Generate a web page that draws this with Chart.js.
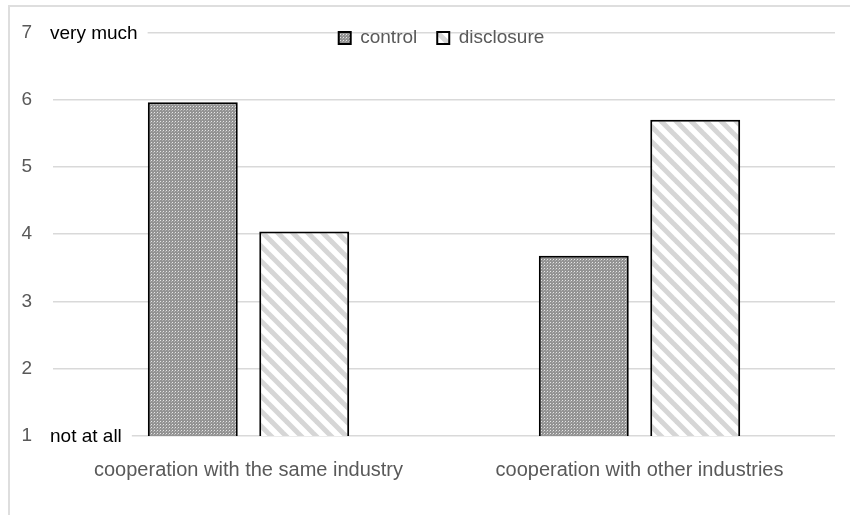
<!DOCTYPE html>
<html>
<head>
<meta charset="utf-8">
<script src="https://cdn.jsdelivr.net/npm/chart.js@4/dist/chart.umd.min.js"></script>
<style>
html, body { margin: 0; padding: 0; background: #fff; }
#wrap { position: relative; width: 850px; height: 515px; overflow: hidden; }
#frame { position: absolute; left: 8px; top: 5px; width: 900px; height: 600px; border: 2px solid #dedede; }
#c { position: absolute; left: 0; top: 0; }
</style>
</head>
<body>
<div id="wrap"><div id="frame"></div><canvas id="c" width="850" height="515"></canvas></div>
<script>
(function () {

// data -------------------------------------------------------------------------------------------------
var categories = ['cooperation with the same industry', 'cooperation with other industries'];
var seriesNames = ['control', 'disclosure'];
var controlValues = [5.96, 3.68];
var disclosureValues = [4.04, 5.70];
var yTicks = [1, 2, 3, 4, 5, 6, 7];
var endLabels = { 1: 'not at all', 7: 'very much' };

// patterns ---------------------------------------------------------------------------------------------
function dotPattern() {
    var c = document.createElement('canvas');
    c.width = 3; c.height = 3;
    var x = c.getContext('2d');
    x.fillStyle = '#939393';
    x.fillRect(0, 0, 3, 3);
    x.fillStyle = '#e6e6e6';
    x.fillRect(1, 1, 1, 1);
    x.fillStyle = '#b4b4b4';
    x.fillRect(0, 2, 1, 1);
    return x.createPattern(c, 'repeat');
}

function stripePattern() {
    var s = 15;
    var c = document.createElement('canvas');
    c.width = s; c.height = s;
    var x = c.getContext('2d');
    x.fillStyle = '#ffffff';
    x.fillRect(0, 0, s, s);
    x.strokeStyle = '#d6d6d6';
    x.lineWidth = 5;
    [-s, 0, s].forEach(function (k) {
        x.beginPath();
        x.moveTo(-2, k - 2);
        x.lineTo(s + 2, s + k + 2);
        x.stroke();
    });
    return x.createPattern(c, 'repeat');
}

var FONT = "'Liberation Sans', Arial, sans-serif";

// move legend down into the plot, under the top grid line
var legendShift = {
    id: 'legendShift',
    afterLayout: function (chart) {
        var lg = chart.legend;
        if (!lg) return;
        var lh = 19 * 1.2;
        var pad = lg.options.labels.padding;
        var dy = (40 - pad - lh / 2) - lg.top;
        lg.top += dy; lg.bottom += dy;
        lg.left += 24; lg.right += 24;
    }
};

// "very much" / "not at all" beside the end ticks
var endText = {
    id: 'endText',
    afterDraw: function (chart) {
        var ctx = chart.ctx;
        var y = chart.scales.y;
        ctx.save();
        ctx.font = '19px ' + FONT;
        ctx.textBaseline = 'middle';
        Object.keys(endLabels).forEach(function (k) {
            var py = y.getPixelForValue(Number(k));
            var w = ctx.measureText(endLabels[k]).width;
            ctx.fillStyle = '#ffffff';
            ctx.fillRect(38, py - 4, w + 22, 8);
            ctx.fillStyle = '#000000';
            ctx.fillText(endLabels[k], 50, py + 1);
        });
        ctx.restore();
    }
};

var ctx = document.getElementById('c').getContext('2d');

new Chart(ctx, {
    type: 'bar',
    data: {
        labels: categories,
        datasets: [{
            label: seriesNames[0],
            data: controlValues,
            backgroundColor: dotPattern(),
            borderColor: '#000000',
            borderWidth: 2
        }, {
            label: seriesNames[1],
            data: disclosureValues,
            backgroundColor: stripePattern(),
            borderColor: '#000000',
            borderWidth: 2
        }]
    },
    options: {
        responsive: false,
        animation: false,
        categoryPercentage: 0.57,
        barPercentage: 0.807,
        layout: { padding: { top: -27, right: 15, left: 0, bottom: 0 } },
        plugins: {
            legend: {
                position: 'top',
                labels: {
                    color: '#595959',
                    font: { family: FONT, size: 19 },
                    boxWidth: 12,
                    boxHeight: 12,
                    padding: 20
                }
            },
            tooltip: { enabled: false }
        },
        scales: {
            x: {
                grid: { display: false },
                border: { display: false },
                ticks: { color: '#595959', font: { family: FONT, size: 20 }, padding: 14, maxRotation: 0 },
                afterFit: function (s) { s.height = 79; }
            },
            y: {
                min: 1,
                max: 7,
                afterBuildTicks: function (s) { s.ticks = yTicks.map(function (v) { return { value: v }; }); },
                grid: { color: '#d9d9d9', lineWidth: 1.5, drawTicks: false },
                border: { display: false },
                ticks: { color: '#595959', font: { family: FONT, size: 19 }, padding: 21 },
                afterFit: function (s) { s.width = 53; }
            }
        }
    },
    plugins: [legendShift, endText]
});

})();
</script>
</body>
</html>
